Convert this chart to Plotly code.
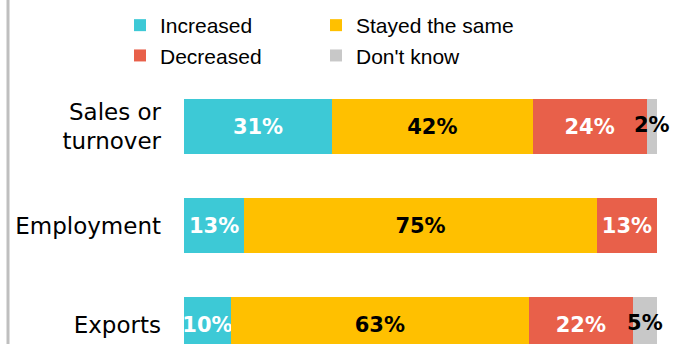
import plotly.graph_objects as go

categories = ["Sales or<br>turnover", "Employment", "Exports"]
series_names = ["Increased", "Stayed the same", "Decreased", "Don't know"]
increased = [31.3, 12.7, 9.9]
stayed = [42.4, 74.6, 63.0]
decreased = [24.1, 12.7, 22.0]
dont_know = [2.2, 0.0, 5.1]
increased_lbl = ["31%", "13%", "10%"]
stayed_lbl = ["42%", "75%", "63%"]
decreased_lbl = ["24%", "13%", "22%"]
dont_know_lbl = ["2%", "", "5%"]

colors = ["#3DC9D6", "#FFC000", "#E8604A", "#C8C8C8"]
label_colors = ["white", "black", "white", "black"]
legend_ids = ["legend", "legend2", "legend", "legend2"]

label_font = dict(family="DejaVu Sans", size=21, weight="bold")

fig = go.Figure()
for i, (name, vals, lbls, col, lcol, lg) in enumerate(zip(
    series_names,
    [increased, stayed, decreased, dont_know],
    [increased_lbl, stayed_lbl, decreased_lbl, dont_know_lbl],
    colors, label_colors, legend_ids,
)):
    inside = i < 3
    fig.add_trace(go.Bar(
        y=categories, x=vals, name=name, orientation="h",
        marker=dict(color=col, line=dict(width=0)),
        text=lbls if inside else None,
        textposition="inside" if inside else "none",
        insidetextanchor="middle",
        textangle=0, constraintext="none", cliponaxis=False,
        textfont=dict(color=lcol, **label_font),
        hoverinfo="skip", legend=lg,
    ))

# labels for the thin "Don't know" segments, centred on each segment
dk_centre = [a + b + c + d / 2 for a, b, c, d in zip(increased, stayed, decreased, dont_know)]
fig.add_trace(go.Scatter(
    x=dk_centre, y=categories, mode="text", text=dont_know_lbl,
    textposition="middle center", cliponaxis=False, showlegend=False,
    textfont=dict(color="black", **label_font), hoverinfo="skip",
))

legend_font = dict(family="Liberation Sans, Arial", size=21, color="black")
fig.update_layout(
    width=682, height=344,
    margin=dict(l=184, r=25, t=0, b=0, autoexpand=False),
    barmode="stack", bargap=0.444,
    plot_bgcolor="white", paper_bgcolor="white",
    showlegend=True,
    legend=dict(
        orientation="v", x=(120 - 184) / 473, xanchor="left",
        y=1 - 5 / 344, yanchor="top", traceorder="normal",
        font=legend_font, bgcolor="rgba(0,0,0,0)", borderwidth=0,
        itemclick=False, itemdoubleclick=False,
    ),
    legend2=dict(
        orientation="v", x=(316 - 184) / 473, xanchor="left",
        y=1 - 5 / 344, yanchor="top", traceorder="normal",
        font=legend_font, bgcolor="rgba(0,0,0,0)", borderwidth=0,
        itemclick=False, itemdoubleclick=False,
    ),
    xaxis=dict(range=[0, 100], visible=False, fixedrange=True),
    yaxis=dict(
        type="category", range=[2.197, -1.278], autorange=False,
        showgrid=False, zeroline=False, showline=False, ticks="",
        ticklabelstandoff=22,
        tickfont=dict(family="DejaVu Sans", size=23, color="black"),
        fixedrange=True,
    ),
    shapes=[dict(type="line", xref="paper", yref="paper",
                 x0=(8 - 184) / 473, x1=(8 - 184) / 473, y0=0, y1=1,
                 line=dict(color="#BFBFBF", width=3))],
)

fig.write_html("out.html")
